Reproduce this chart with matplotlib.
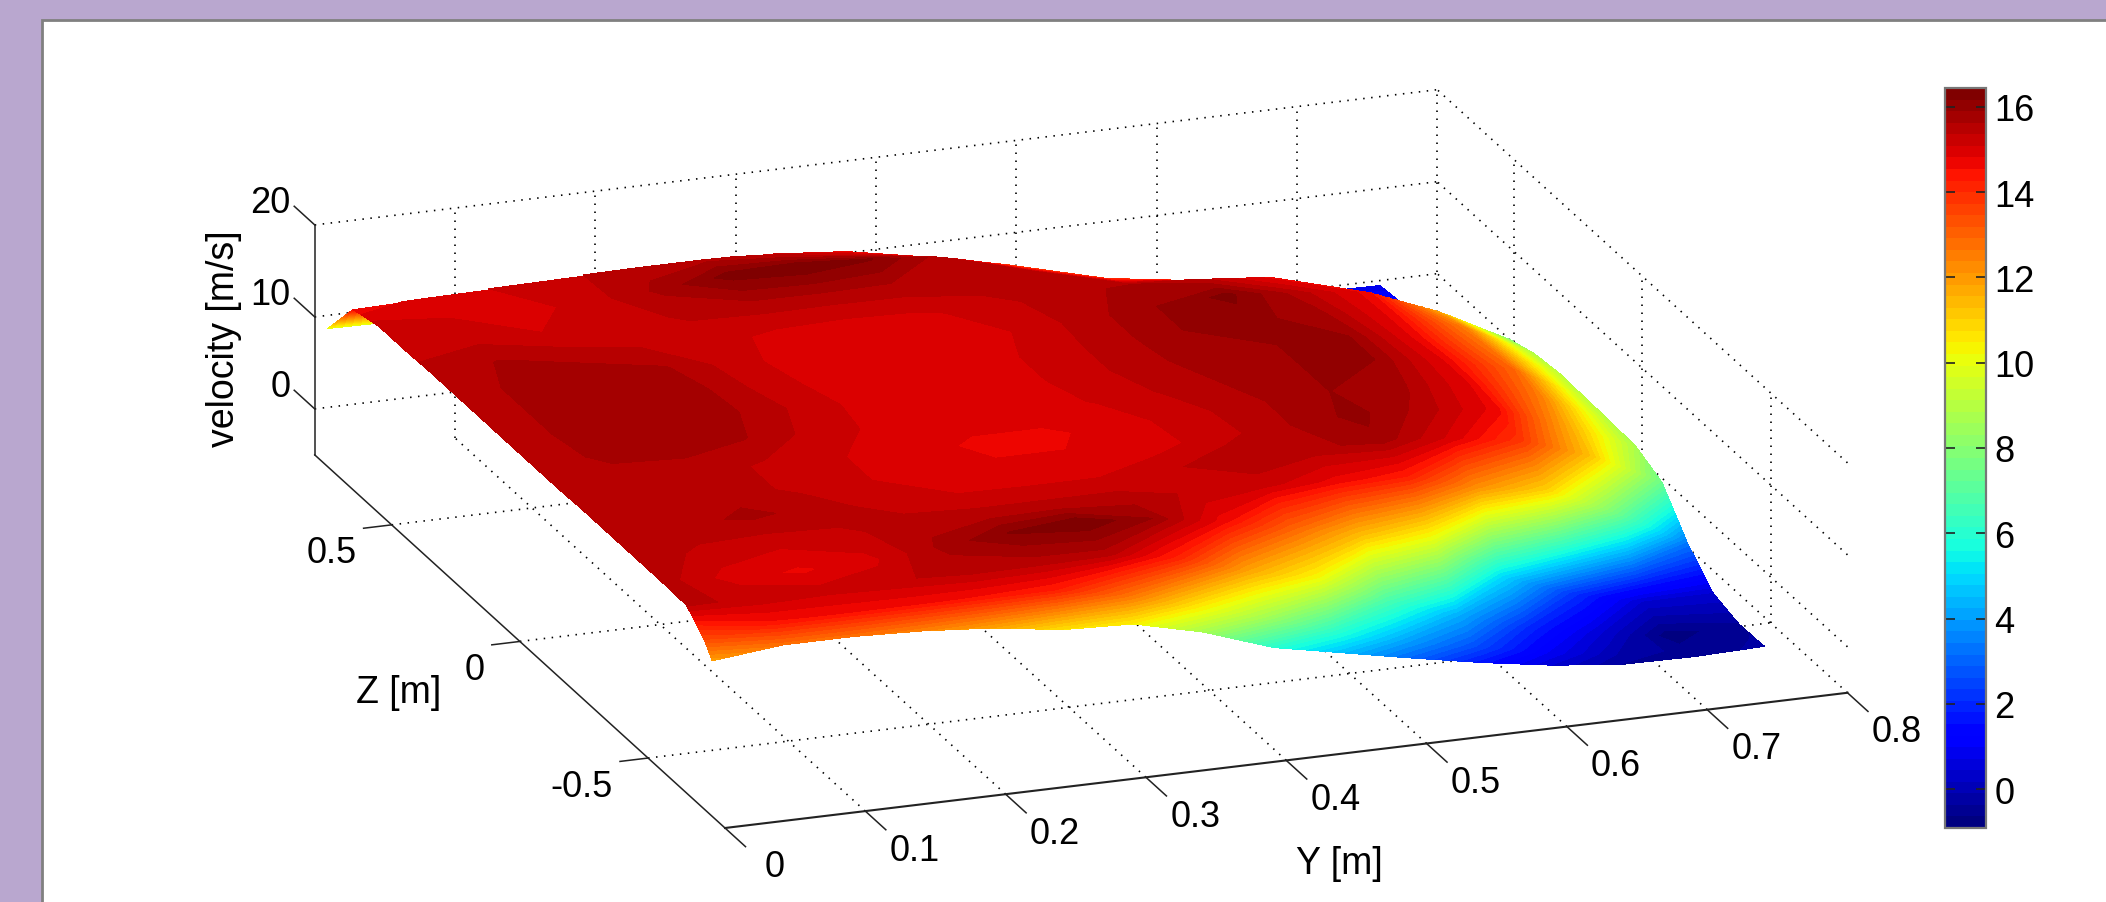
import numpy as np
import matplotlib
matplotlib.use('Agg')
import matplotlib.pyplot as plt
from matplotlib.cm import ScalarMappable
from matplotlib.colors import Normalize
from matplotlib.patches import Rectangle
from mpl_toolkits.mplot3d import proj3d

# Surface nodes
y_nodes = [0, .05, .1, .15, .2, .25, .3, .35, .4, .45, .5, .55, .6, .65, .7, .75]
z_nodes = [-.75, -.72, -.65, -.55, -.45, -.35, -.25, -.15, -.05, .05, .15, .25, .35, .45, .55, .65, .75]
# one row per z node, one column per y node
velocity = [
    [11.9, 12.7, 12.7, 12.4, 11.8, 10.7, 10.4, 8.6, 6.0, 4.5, 3.0, 1.6, .4, -.4, -.5, -.3],
    [13.4, 14.5, 14.6, 14.6, 14.5, 14.3, 12.8, 10.5, 8.6, 6.0, 4.0, 2.6, 1.0, -.1, -.5, -.35],
    [15.4, 15.3, 15.2, 15.3, 15.5, 15.5, 15.5, 14.2, 11.8, 10.3, 6.6, 4.3, 2.0, .5, -.85, -.4],
    [15.5, 14.95, 14.75, 15.0, 15.7, 16.2, 16.42, 15.9, 14.7, 13.0, 11.3, 10.0, 5.0, 2.2, .4, .4],
    [15.5, 15.3, 15.15, 15.3, 15.5, 15.5, 15.5, 15.5, 15.3, 15.2, 14.7, 14.3, 12.2, 11.0, 7.5, 3.3],
    [15.5, 15.5, 15.7, 15.5, 15.2, 15.1, 15.1, 15.1, 15.3, 15.6, 15.5, 15.8, 15.0, 13.8, 11.2, 7.4],
    [15.5, 15.5, 15.5, 15.3, 15.1, 14.95, 14.85, 14.85, 14.95, 15.2, 15.6, 16.0, 15.5, 14.7, 11.8, 8.7],
    [15.4, 15.5, 15.5, 15.3, 15.1, 14.95, 14.75, 14.75, 14.95, 15.25, 15.6, 15.9, 15.7, 14.8, 12.5, 8.9],
    [15.4, 15.7, 15.75, 15.65, 15.25, 15.0, 14.95, 14.95, 15.1, 15.4, 15.7, 15.9, 15.9, 14.8, 12.9, 9.0],
    [15.4, 15.75, 15.85, 15.75, 15.35, 15.0, 14.95, 14.95, 15.15, 15.5, 15.8, 15.9, 15.9, 14.7, 12.7, 9.1],
    [15.4, 15.75, 15.85, 15.75, 15.25, 14.95, 14.9, 14.95, 15.15, 15.5, 15.9, 16.0, 15.7, 14.7, 12.5, 8.75],
    [15.4, 15.75, 15.8, 15.65, 15.2, 14.9, 14.85, 14.9, 15.1, 15.5, 15.9, 16.26, 15.5, 14.7, 11.7, 7.8],
    [15.4, 15.65, 15.5, 15.35, 15.2, 15.0, 14.95, 15.0, 15.25, 15.5, 15.7, 15.4, 14.7, 12.0, 8.5, 4.5],
    [15.3, 15.3, 15.1, 15.2, 15.4, 15.5, 15.5, 15.5, 15.5, 15.5, 13.9, 12.6, 11.7, 9.0, 6.0, 3.0],
    [15.3, 15.1, 14.95, 15.2, 15.7, 16.3, 16.42, 16.2, 15.5, 13.7, 11.4, 9.5, 8.0, 6.0, 3.5, 1.8],
    [14.6, 14.9, 15.1, 15.3, 15.5, 15.5, 15.2, 14.5, 12.9, 11.2, 9.0, 7.5, 6.0, 4.0, 2.0, 1.2],
    [10.0, 9.9, 9.5, 9.5, 9.5, 9.5, 9.0, 8.5, 8.0, 7.0, 6.0, 5.0, 3.5, 2.0, 1.0, .9],
]

y_ticks = [0, .1, .2, .3, .4, .5, .6, .7, .8]
y_tick_labels = ['0', '0.1', '0.2', '0.3', '0.4', '0.5', '0.6', '0.7', '0.8']
z_ticks = [-.5, 0, .5]
z_tick_labels = ['-0.5', '0', '0.5']
v_ticks = [0, 10, 20]
v_tick_labels = ['0', '10', '20']
cbar_ticks = [0, 2, 4, 6, 8, 10, 12, 14, 16]

y_lim = (0, .8)
z_lim = (-.8, .8)
v_lim = (-5, 20)
c_lim = (-.91, 16.44)

W, H = 2106, 903
plt.rcParams['font.family'] = ['Liberation Sans', 'DejaVu Sans']
FS = 26
cmap = plt.get_cmap('jet', 64)

fig = plt.figure(figsize=(W / 100, H / 100), dpi=100, facecolor='#b9a7cf')
fig.patches.append(Rectangle((41.5 / W, -.05), 1, (H - 21) / H + .05, transform=fig.transFigure,
                             facecolor='white', edgecolor='#808080', linewidth=2, zorder=-1))

ax = fig.add_axes([.1, .1, .5, .5], projection='3d', computed_zorder=False)
ax.patch.set_visible(False)
ax.set_axis_off()
ax.set_proj_type('ortho')
ax.view_init(elev=19.33, azim=-110)
ax.set_box_aspect((1194, 1199, 243.6))

dots = dict(color='black', linestyle=(0, (.9, 3.9)), linewidth=1.2)
solid = dict(color='#222222', linewidth=1.1)

# floor grid
for y in y_ticks[1:]:
    ax.plot([y, y], z_lim, [v_lim[0]] * 2, **dots)
for z in z_ticks:
    ax.plot(y_lim, [z, z], [v_lim[0]] * 2, **dots)
# back walls
for y in y_ticks[1:]:
    ax.plot([y, y], [z_lim[1]] * 2, v_lim, **dots)
for z in z_ticks:
    ax.plot([y_lim[1]] * 2, [z, z], v_lim, **dots)
for v in v_ticks:
    ax.plot(y_lim, [z_lim[1]] * 2, [v, v], **dots)
    ax.plot([y_lim[1]] * 2, z_lim, [v, v], **dots)

# axis lines
ax.plot(y_lim, [z_lim[0]] * 2, [v_lim[0]] * 2, color='#222222', linewidth=1.5)
ax.plot([0, 0], z_lim, [v_lim[0]] * 2, **solid)
ax.plot([0, 0], [z_lim[1]] * 2, v_lim, **solid)

# tick marks
for y in y_ticks:
    ax.plot([y, y], [z_lim[0], z_lim[0] - .08], [v_lim[0]] * 2, **solid)
for z in z_ticks:
    ax.plot([0, -.02], [z, z], [v_lim[0]] * 2, **solid)
for v in v_ticks:
    ax.plot([0, 0], [z_lim[1], z_lim[1] + .08], [v, v], **solid)

ax.set_xlim(*y_lim)
ax.set_ylim(*z_lim)
ax.set_zlim(*v_lim)


def to_px(xs, ys, zs):
    xp, yp, _ = proj3d.proj_transform(np.ravel(xs), np.ravel(ys), np.ravel(zs), ax.get_proj())
    return ax.transData.transform(np.column_stack([xp, yp]))


# fit the box on the picture: origin and far end of the Y axis
target_a = np.array([725.0, H - 829.0])
target_b = np.array([1847.5, H - 694.0])
size, cx, cy = 1200.0, W * .5, H * .5
for i in range(4):
    ax.set_position([(cx - size / 2) / W, (cy - size / 2) / H, size / W, size / H])
    ax.apply_aspect()
    pts = to_px([0, .8], [-.8, -.8], [-5, -5])
    size *= np.linalg.norm(target_b - target_a) / np.linalg.norm(pts[1] - pts[0])
    cx += target_a[0] - pts[0][0]
    cy += target_a[1] - pts[0][1]
ax.set_position([(cx - size / 2) / W, (cy - size / 2) / H, size / W, size / H])
ax.apply_aspect()

# surface, contoured in the box projection on a transparent overlay
yy, zz = np.meshgrid(y_nodes, z_nodes)
vv = np.array(velocity)
px = to_px(yy, zz, vv)
sx = px[:, 0].reshape(vv.shape)
sy = px[:, 1].reshape(vv.shape)

over = fig.add_axes([0, 0, 1, 1], zorder=5)
over.patch.set_visible(False)
over.set_axis_off()
over.contourf(sx, sy, vv, levels=np.linspace(c_lim[0], c_lim[1], 65), cmap=cmap,
              vmin=c_lim[0], vmax=c_lim[1], antialiased=False)
over.set_xlim(0, W)
over.set_ylim(0, H)

# tick labels, placed from the box projection
for y, lab in zip(y_ticks, y_tick_labels):
    p = to_px(y + .004, z_lim[0] - .17, v_lim[0])[0]
    over.text(p[0], p[1], lab, fontsize=FS, ha='center', va='center')
for z, lab in zip(z_ticks, z_tick_labels):
    p = to_px(-.025, z, v_lim[0] - 2.6)[0]
    over.text(p[0], p[1], lab, fontsize=FS, ha='right', va='center')
for v, lab in zip(v_ticks, v_tick_labels):
    p = to_px(0, z_lim[1] + .095, v)[0]
    over.text(p[0], p[1], lab, fontsize=FS, ha='right', va='center')

# axis titles
fig.text(224 / W, 1 - 339 / H, 'velocity [m/s]', rotation=90, fontsize=27, ha='center', va='center')
fig.text(399 / W, 1 - 693 / H, 'Z [m]', fontsize=27, ha='center', va='center')
fig.text(1339 / W, 1 - 864 / H, 'Y [m]', fontsize=27, ha='center', va='center')

# colorbar
cax = fig.add_axes([1945 / W, 1 - 829 / H, 41 / W, 740 / H], zorder=6)
cb = fig.colorbar(ScalarMappable(Normalize(*c_lim), cmap), cax=cax, ticks=cbar_ticks)
cb.ax.tick_params(direction='in', left=True, right=True, length=7, width=1.2,
                  color='#222222', labelsize=FS, pad=6)
cb.outline.set_edgecolor('#777777')
cb.outline.set_linewidth(1.6)

fig.savefig('out.png', dpi=100, facecolor=fig.get_facecolor())
